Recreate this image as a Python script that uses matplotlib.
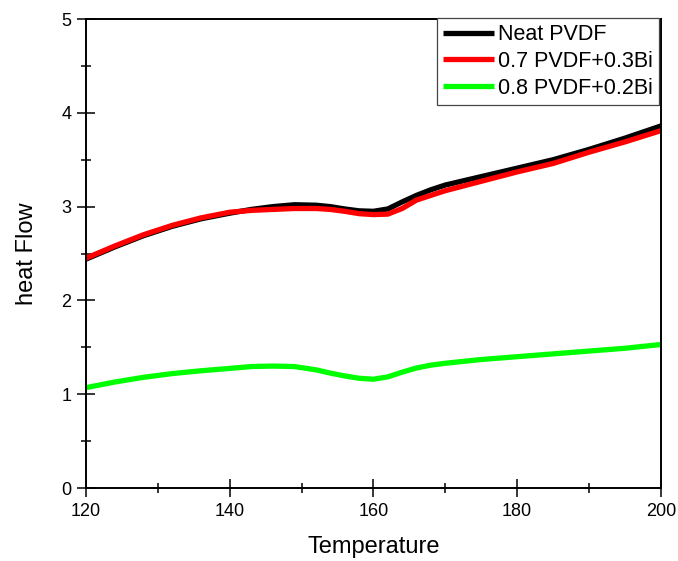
import matplotlib
matplotlib.use("Agg")
import matplotlib.pyplot as plt
from matplotlib.ticker import MultipleLocator

plt.rcParams['font.family'] = ['Liberation Sans', 'DejaVu Sans']

# DSC traces, heat flow vs temperature
temperature = [120, 124, 128, 132, 136, 140, 143, 146, 149, 152, 154, 156, 158,
               160, 162, 164, 166, 168, 170, 175, 180, 185, 190, 195, 200]
neat_pvdf = [2.44, 2.57, 2.69, 2.79, 2.87, 2.93, 2.97, 3.00, 3.02, 3.015, 3.00, 2.975, 2.955,
             2.95, 2.975, 3.05, 3.12, 3.18, 3.23, 3.32, 3.41, 3.50, 3.61, 3.73, 3.86]
pvdf_03bi = [2.45, 2.58, 2.70, 2.80, 2.88, 2.94, 2.96, 2.97, 2.98, 2.98, 2.97, 2.95, 2.925,
             2.915, 2.92, 2.98, 3.07, 3.12, 3.17, 3.27, 3.37, 3.46, 3.58, 3.69, 3.81]
pvdf_02bi = [1.07, 1.13, 1.18, 1.22, 1.25, 1.275, 1.295, 1.30, 1.295, 1.26, 1.225, 1.195, 1.17,
             1.16, 1.185, 1.235, 1.28, 1.31, 1.33, 1.37, 1.40, 1.43, 1.46, 1.49, 1.53]

labels = ["Neat PVDF", "0.7 PVDF+0.3Bi", "0.8 PVDF+0.2Bi"]
colors = ["#000000", "#ff0000", "#00ff00"]

fig = plt.figure(figsize=(6.78, 5.61), dpi=100)
ax = fig.add_axes([0.1268, 0.1301, 0.848, 0.836])

for series, lab, col in zip([neat_pvdf, pvdf_03bi, pvdf_02bi], labels, colors):
    ax.plot(temperature, series, color=col, lw=3.8, label=lab,
            solid_capstyle='butt', solid_joinstyle='round')

ax.set_xlim(120, 200)
ax.set_ylim(0, 5)
ax.xaxis.set_major_locator(MultipleLocator(20))
ax.xaxis.set_minor_locator(MultipleLocator(10))
ax.yaxis.set_major_locator(MultipleLocator(1))
ax.yaxis.set_minor_locator(MultipleLocator(0.5))

ax.tick_params(which='both', direction='inout', top=False, right=False,
               width=1.1, labelsize=13, pad=4)
ax.tick_params(which='major', length=13)
ax.tick_params(which='minor', length=6.5)
for s in ax.spines.values():
    s.set_linewidth(1.4)

ax.set_xlabel("Temperature", fontsize=17, labelpad=12)
ax.set_ylabel("heat Flow", fontsize=17, labelpad=17)

leg = ax.legend(loc='upper right', bbox_to_anchor=(0.997, 1.002), fontsize=15.5,
                handlelength=2.37, handletextpad=0.2, labelspacing=0.27,
                borderpad=0.28, borderaxespad=0.0, fancybox=False, framealpha=1)
leg.get_frame().set_edgecolor('#444444')
leg.get_frame().set_linewidth(0.9)

fig.savefig("out.png", dpi=100)
